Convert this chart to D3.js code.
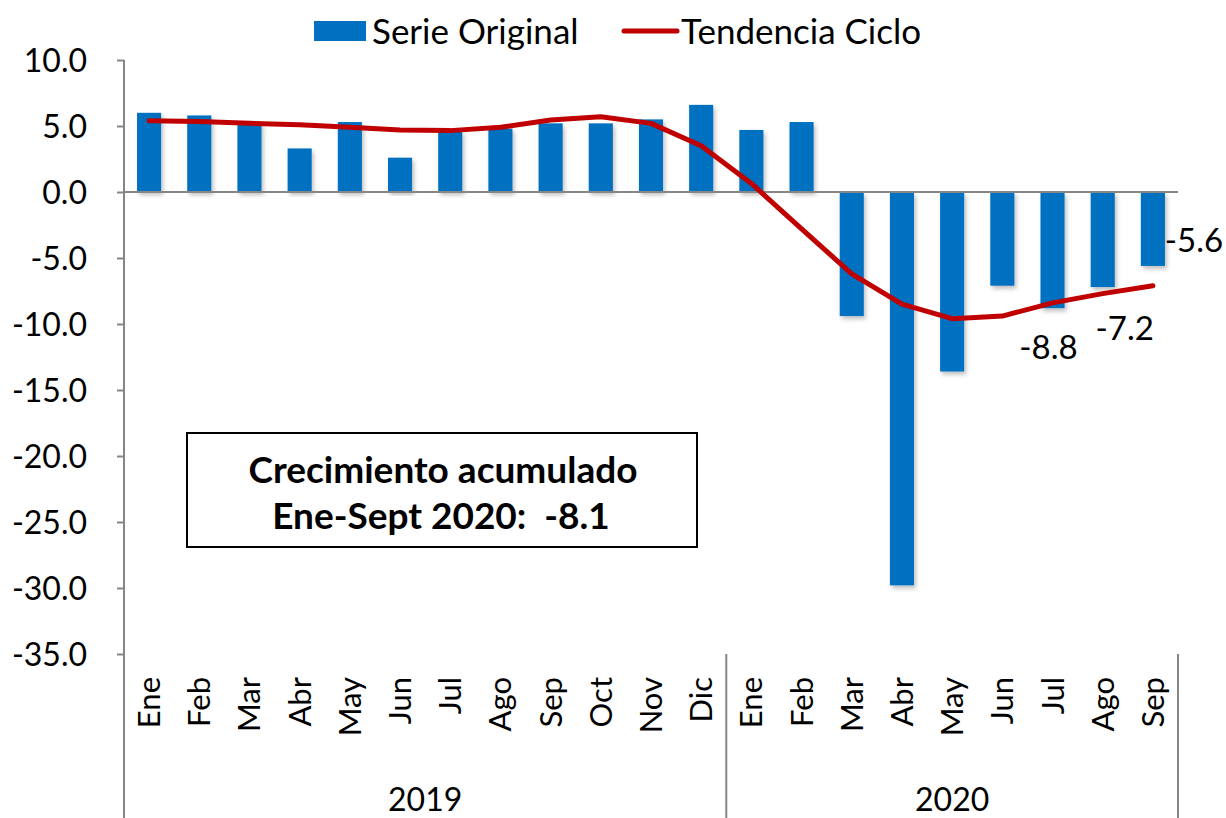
<!DOCTYPE html>
<html>
<head>
<meta charset="utf-8">
<script src="https://cdn.jsdelivr.net/npm/d3@7"></script>
<style>
  body { margin: 0; background: #fff; }
  text { font-family: Lato, "Open Sans", sans-serif; fill: #000; }
</style>
</head>
<body>
<svg id="chart" width="1226" height="818"></svg>
<script>
// Months and years on the category axis
const months = ["Ene","Feb","Mar","Abr","May","Jun","Jul","Ago","Sep","Oct","Nov","Dic",
                "Ene","Feb","Mar","Abr","May","Jun","Jul","Ago","Sep"];
const years = ["2019", "2020"];
const yearOf = months.map((m, i) => i < 12 ? "2019" : "2020");

// Serie original (bars) and tendencia ciclo (line)
const serieOriginal = [6.0, 5.8, 5.3, 3.3, 5.3, 2.6, 4.6, 4.8, 5.2, 5.2, 5.5, 6.6,
                       4.7, 5.3, -9.4, -29.8, -13.6, -7.1, -8.8, -7.2, -5.6];
const tendenciaCiclo = [5.4, 5.35, 5.2, 5.1, 4.9, 4.7, 4.65, 4.9, 5.45, 5.7, 5.2, 3.5,
                        0.65, -2.8, -6.2, -8.5, -9.6, -9.4, -8.4, -7.7, -7.1];

const yTicks = [10, 5, 0, -5, -10, -15, -20, -25, -30, -35];

// Labels shown next to the last bars (index)
const labelIdx = [18, 19, 20];

const svg = d3.select("#chart");
const plotLeft = 124, plotRight = 1178, plotTop = 60, plotBottom = 654;

const x = d3.scaleBand()
    .domain(d3.range(months.length))
    .range([plotLeft, plotRight])
    .padding(0);

const y = d3.scaleLinear()
    .domain([-35, 10])
    .range([plotBottom, plotTop]);

const barW = x.bandwidth() * 0.48;
const axisColor = "#868686";
// plain hyphen for negatives, like the original
const fmt = d => d3.format(".1f")(d).replace("\u2212", "-");

// drop shadow for bars
const defs = svg.append("defs");
defs.append("filter")
    .attr("id", "shadow")
    .attr("x", "-20%").attr("y", "-5%").attr("width", "150%").attr("height", "115%")
  .append("feDropShadow")
    .attr("dx", 2).attr("dy", 3).attr("stdDeviation", 2)
    .attr("flood-color", "#000").attr("flood-opacity", 0.25);

// Y axis
const yAxis = d3.axisLeft(y)
    .tickValues(yTicks)
    .tickSize(7)
    .tickPadding(30)
    .tickFormat(fmt);

const gy = svg.append("g")
    .attr("transform", `translate(${plotLeft},0)`)
    .call(yAxis);
gy.select(".domain").remove();
gy.selectAll(".tick line").attr("stroke", axisColor).attr("stroke-width", 2);
gy.selectAll(".tick text")
    .style("font-size", "32px")
    .style("font-family", "Lato, sans-serif")
    .attr("fill", "#000")
    .attr("dy", "0.36em");

svg.append("line")
    .attr("x1", plotLeft).attr("x2", plotLeft)
    .attr("y1", plotTop).attr("y2", 818)
    .attr("stroke", axisColor).attr("stroke-width", 2);

// Bars
svg.append("g").selectAll("rect")
    .data(serieOriginal)
    .join("rect")
    .attr("x", (d, i) => x(i) + (x.bandwidth() - barW) / 2)
    .attr("y", d => y(Math.max(0, d)))
    .attr("width", barW)
    .attr("height", d => Math.abs(y(d) - y(0)))
    .attr("fill", "#0070C0")
    .attr("filter", "url(#shadow)");

// Zero line
svg.append("line")
    .attr("x1", plotLeft).attr("x2", plotRight)
    .attr("y1", y(0)).attr("y2", y(0))
    .attr("stroke", axisColor).attr("stroke-width", 2);

// Trend line
const line = d3.line()
    .x((d, i) => x(i) + x.bandwidth() / 2)
    .y(d => y(d));

svg.append("path")
    .datum(tendenciaCiclo)
    .attr("d", line)
    .attr("fill", "none")
    .attr("stroke", "#C00000")
    .attr("stroke-width", 5)
    .attr("stroke-linejoin", "round")
    .attr("stroke-linecap", "round");

// Month labels (rotated)
svg.append("g").selectAll("text")
    .data(months)
    .join("text")
    .attr("transform", (d, i) => `translate(${x(i) + x.bandwidth() / 2 + 11},677) rotate(-90)`)
    .attr("text-anchor", "end")
    .style("font-size", "31px")
    .text(d => d);

// Year groups and separators
const yearSpan = years.map(yr => {
  const idx = d3.range(months.length).filter(i => yearOf[i] === yr);
  return { yr, x0: x(idx[0]), x1: x(idx[idx.length - 1]) + x.bandwidth() };
});

svg.append("g").selectAll("line")
    .data(yearSpan)
    .join("line")
    .attr("x1", d => d.x1).attr("x2", d => d.x1)
    .attr("y1", plotBottom).attr("y2", 818)
    .attr("stroke", axisColor).attr("stroke-width", 2);

svg.append("g").selectAll("text")
    .data(yearSpan)
    .join("text")
    .attr("x", d => (d.x0 + d.x1) / 2)
    .attr("y", 811)
    .attr("text-anchor", "middle")
    .style("font-size", "32px")
    .text(d => d.yr);

// Data labels for the last bars
const labelOffset = { 18: [-4, 39], 19: [22, 41], 20: [41, -26] };
svg.append("g").selectAll("text")
    .data(labelIdx)
    .join("text")
    .attr("x", i => x(i) + x.bandwidth() / 2 + labelOffset[i][0])
    .attr("y", i => y(serieOriginal[i]) + labelOffset[i][1])
    .attr("text-anchor", "middle")
    .attr("dy", "0.36em")
    .style("font-size", "33px")
    .text(i => fmt(serieOriginal[i]));

// Annotation box
const box = svg.append("g").attr("transform", "translate(187,433)");
box.append("rect")
    .attr("width", 510).attr("height", 114)
    .attr("fill", "#fff")
    .attr("stroke", "#000").attr("stroke-width", 2);
box.append("text")
    .attr("x", 256).attr("y", 37)
    .attr("text-anchor", "middle")
    .attr("dy", "0.36em")
    .style("font-size", "37px").style("font-weight", "bold")
    .text("Crecimiento acumulado");
box.append("text")
    .attr("x", 254).attr("y", 83)
    .attr("text-anchor", "middle")
    .attr("dy", "0.36em")
    .style("font-size", "37px").style("font-weight", "bold")
    .style("white-space", "pre")
    .text("Ene-Sept 2020:  -8.1");

// Legend
const legend = svg.append("g");
legend.append("rect")
    .attr("x", 314).attr("y", 21).attr("width", 52).attr("height", 20)
    .attr("fill", "#0070C0");
legend.append("text")
    .attr("x", 372).attr("y", 31).attr("dy", "0.36em")
    .style("font-size", "35px")
    .text("Serie Original");
legend.append("line")
    .attr("x1", 624).attr("x2", 677).attr("y1", 31).attr("y2", 31)
    .attr("stroke", "#C00000").attr("stroke-width", 5)
    .attr("stroke-linecap", "round");
legend.append("text")
    .attr("x", 681).attr("y", 31).attr("dy", "0.36em")
    .style("font-size", "35px")
    .text("Tendencia Ciclo");
</script>
</body>
</html>
